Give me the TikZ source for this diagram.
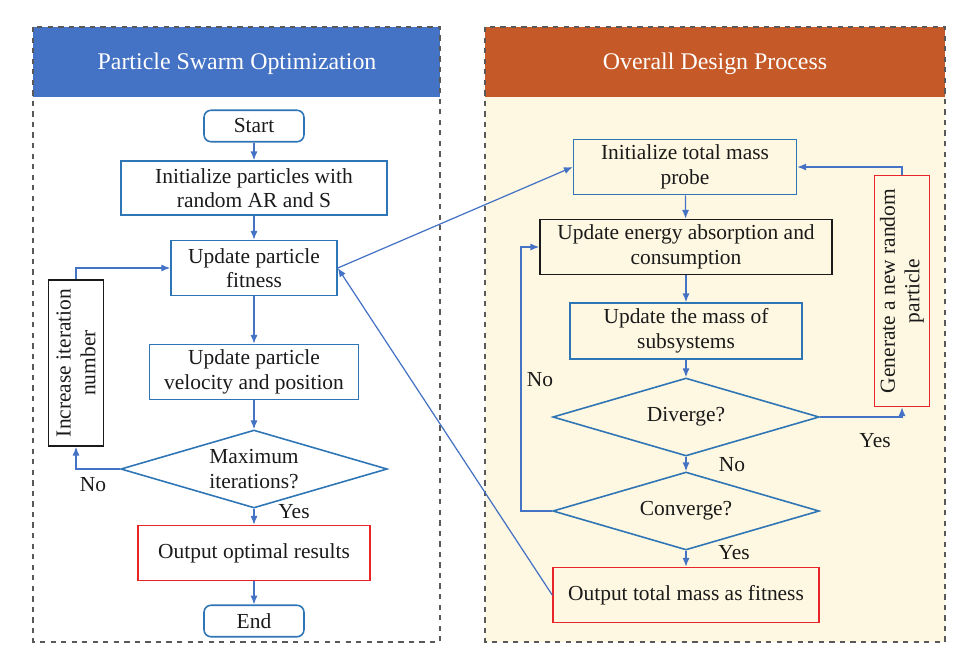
\documentclass[tikz,border=0pt]{standalone}
\usepackage{fontspec}
\setmainfont{Liberation Serif}
\usetikzlibrary{shapes.geometric,arrows.meta}
\definecolor{hdrblue}{HTML}{4472C4}
\definecolor{hdrorange}{HTML}{C55A28}
\definecolor{cream}{HTML}{FEF7E1}
\definecolor{boxblue}{HTML}{2E75B6}
\definecolor{arrblue}{HTML}{4472C4}
\definecolor{boxred}{HTML}{E8262A}
\definecolor{txtdark}{HTML}{1A1A1A}
\tikzset{
  base/.style={line width=0.9pt, align=center, text=txtdark, inner sep=2pt,
    font=\fontsize{12.2}{14}\selectfont},
  bluebox/.style={base, draw=boxblue},
  redbox/.style={base, draw=boxred},
  blackbox/.style={base, draw=txtdark},
  termbox/.style={bluebox, rounded corners=4pt, minimum width=2cm, minimum height=0.63cm},
  decision/.style={base, draw=boxblue, diamond, aspect=3.4, inner sep=0pt,
    minimum width=5.33cm, minimum height=1.56cm},
  arr/.style={draw=arrblue, line width=0.7pt, -{Latex[length=5pt,width=4pt]}},
  lbl/.style={text=txtdark, font=\fontsize{12.2}{14}\selectfont},
  title/.style={text=white, font=\fontsize{13.6}{16}\selectfont}
}
\begin{document}
\begin{tikzpicture}[x=0.02cm, y=-0.02cm]
    \useasboundingbox (0,0) rectangle (972,660);
    % panels
    \fill[hdrblue] (33,27) rectangle (440,97);
    \fill[cream] (485,27) rectangle (945,642);
    \fill[hdrorange] (485,27) rectangle (945,97);
    \draw[dashed, gray!70!black, line width=0.6pt] (33,27) rectangle (440,642);
    \draw[dashed, gray!70!black, line width=0.6pt] (485,27) rectangle (945,642);
    \node[title] (psotitle) at (237,64) {Particle Swarm Optimization};
    \node[title] (odptitle) at (715,64) {Overall Design Process};

    % particle swarm optimization
    \node[termbox] (start) at (254,126) {Start};
    \node[bluebox, minimum width=5.32cm, minimum height=1.08cm] (init) at (254,188)
        {Initialize particles with\\random AR and S};
    \node[bluebox, minimum width=3.32cm, minimum height=1.1cm] (fit) at (254,268)
        {Update particle\\fitness};
    \node[bluebox, minimum width=4.18cm, minimum height=1.1cm] (vel) at (254,372)
        {Update particle\\velocity and position};
    \node[decision] (maxit) at (254,469) {Maximum\\iterations?};
    \node[redbox, minimum width=4.64cm, minimum height=1.1cm] (outopt) at (254,553)
        {Output optimal results};
    \node[termbox] (finish) at (254,621) {End};
    \node[blackbox, rotate=90, minimum width=3.32cm, minimum height=1.1cm] (inc) at (76,363)
        {Increase iteration\\number};
    \node[lbl] (nomax) at (93,485) {No};
    \node[lbl] (yesmax) at (294,512) {Yes};

    \draw[arr] (start) -- (init);
    \draw[arr] (init) -- (fit);
    \draw[arr] (fit) -- (vel);
    \draw[arr] (vel) -- (maxit);
    \draw[arr] (maxit) -- (outopt);
    \draw[arr] (outopt) -- (finish);
    \draw[arr] (maxit.west) -| (inc.west);
    \draw[arr] (inc.east) |- (fit.west);

    % overall design process
    \node[bluebox, minimum width=4.46cm, minimum height=1.1cm] (initm) at (685,167)
        {Initialize total mass\\probe};
    \node[blackbox, minimum width=5.84cm, minimum height=1.1cm] (energy) at (686,247)
        {Update energy absorption and\\consumption};
    \node[bluebox, minimum width=4.64cm, minimum height=1.12cm] (masssub) at (686,331)
        {Update the mass of\\subsystems};
    \node[decision] (diverge) at (686,417) {Diverge?};
    \node[decision] (converge) at (686,511) {Converge?};
    \node[redbox, minimum width=5.32cm, minimum height=1.1cm] (outm) at (686,595)
        {Output total mass as fitness};
    \node[redbox, rotate=90, minimum width=4.62cm, minimum height=1.1cm] (newp) at (902,291)
        {Generate a new random\\particle};
    \node[lbl] (noconv) at (540,380) {No};
    \node[lbl] (nodiv) at (732,465) {No};
    \node[lbl] (yesdiv) at (875,441) {Yes};
    \node[lbl] (yesconv) at (734,553) {Yes};

    \draw[arr] (initm) -- (energy);
    \draw[arr] (energy) -- (masssub);
    \draw[arr] (masssub) -- (diverge);
    \draw[arr] (diverge) -- (converge);
    \draw[arr] (converge) -- (outm);
    \draw[arr] (diverge.east) -| (newp.west);
    \draw[arr] (newp.east) |- (initm.east);
    \draw[arr] (converge.west) -- ++(-31,0) |- (energy.west);

    % links between the two processes
    \draw[arr] (fit.east) -- (initm.west);
    \draw[arr] (outm.west) -- (fit.east);
\end{tikzpicture}
\end{document}
